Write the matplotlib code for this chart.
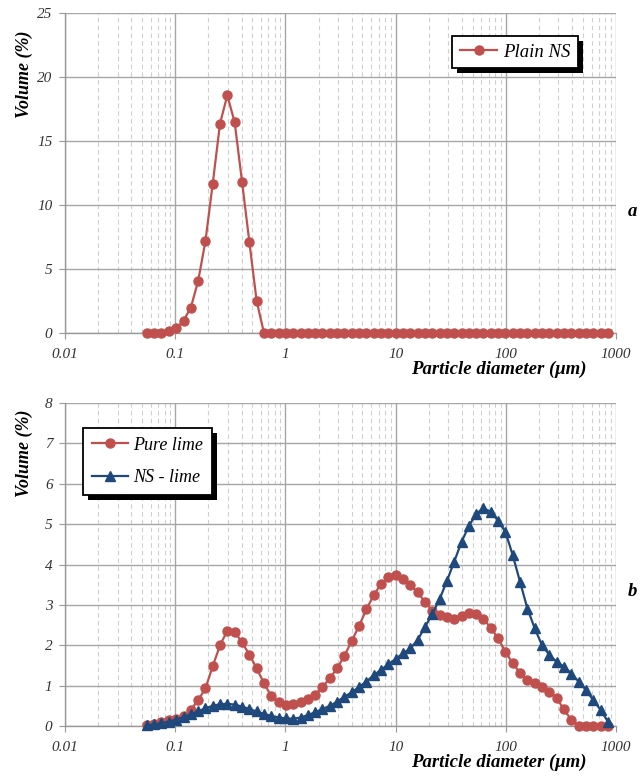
import matplotlib
matplotlib.use('Agg')
import matplotlib.pyplot as plt
from matplotlib.patches import Rectangle
from matplotlib.ticker import LogLocator, NullFormatter

plt.rcParams['font.family'] = ['Liberation Serif', 'DejaVu Serif']

# particle size classes (um)
diameter = [0.0553, 0.0645, 0.0751, 0.0876, 0.102, 0.119, 0.1385, 0.1613, 0.188, 0.219,
            0.255, 0.297, 0.3465, 0.404, 0.4707, 0.548, 0.639, 0.7446, 0.8675, 1.011,
            1.178, 1.372, 1.599, 1.863, 2.171, 2.529, 2.947, 3.434, 4.001, 4.663,
            5.433, 6.33, 7.376, 8.594, 10.01, 11.67, 13.59, 15.84, 18.46, 21.5,
            25.06, 29.2, 34.02, 39.64, 46.19, 53.83, 62.72, 73.08, 85.15, 99.2,
            115.6, 134.7, 157.0, 182.9, 213.1, 248.3, 289.3, 337.2, 392.8, 457.7,
            533.3, 621.4, 724.4, 843.7]

plain_ns = [0.00, 0.00, 0.02, 0.18, 0.37, 0.96, 1.98, 4.04, 7.16, 11.66,
            16.35, 18.57, 16.46, 11.82, 7.13, 2.52, 0.00, 0.00, 0.00, 0.00,
            0.00, 0.00, 0.00, 0.00, 0.00, 0.00, 0.00, 0.00, 0.00, 0.00,
            0.00, 0.00, 0.00, 0.00, 0.00, 0.00, 0.00, 0.00, 0.00, 0.00,
            0.00, 0.00, 0.00, 0.00, 0.00, 0.00, 0.00, 0.00, 0.00, 0.00,
            0.00, 0.00, 0.00, 0.00, 0.00, 0.00, 0.00, 0.00, 0.00, 0.00,
            0.00, 0.00, 0.00, 0.00]

pure_lime = [0.02, 0.05, 0.09, 0.14, 0.18, 0.25, 0.40, 0.64, 0.93, 1.48,
             2.00, 2.36, 2.34, 2.07, 1.77, 1.43, 1.06, 0.74, 0.59, 0.53,
             0.55, 0.59, 0.67, 0.78, 0.97, 1.18, 1.43, 1.74, 2.11, 2.48,
             2.89, 3.24, 3.52, 3.70, 3.74, 3.65, 3.49, 3.31, 3.08, 2.86,
             2.75, 2.69, 2.64, 2.72, 2.80, 2.77, 2.65, 2.43, 2.17, 1.84,
             1.55, 1.32, 1.14, 1.06, 0.97, 0.85, 0.69, 0.41, 0.15, 0.00,
             0.00, 0.00, 0.00, 0.00]

ns_lime = [0.02, 0.04, 0.07, 0.11, 0.16, 0.22, 0.29, 0.36, 0.44, 0.50,
           0.54, 0.55, 0.53, 0.48, 0.42, 0.36, 0.30, 0.25, 0.21, 0.19,
           0.18, 0.21, 0.27, 0.34, 0.42, 0.50, 0.60, 0.73, 0.83, 0.97,
           1.10, 1.26, 1.39, 1.53, 1.66, 1.80, 1.92, 2.13, 2.45, 2.77,
           3.14, 3.59, 4.07, 4.56, 4.95, 5.26, 5.39, 5.31, 5.08, 4.81,
           4.23, 3.57, 2.91, 2.42, 2.00, 1.76, 1.59, 1.47, 1.30, 1.10,
           0.89, 0.64, 0.40, 0.11]

x_ticks = [0.01, 0.1, 1, 10, 100, 1000]
x_tick_labels = ['0.01', '0.1', '1', '10', '100', '1000']

RED = '#C0504D'
BLUE = '#1F497D'
TXT = '#333333'

fig = plt.figure(figsize=(6.43, 7.82), dpi=100)
fig.patch.set_facecolor('white')
ax_a = fig.add_axes([65 / 643, 1 - 333 / 782, 551 / 643, 320 / 782])
ax_b = fig.add_axes([65 / 643, 1 - 726 / 782, 551 / 643, 323 / 782])


def style_axis(ax, ymax, ystep, ylab_y):
    ax.set_xscale('log')
    ax.set_xlim(0.01, 1000)
    ax.set_ylim(0, ymax)
    ax.set_xticks(x_ticks)
    ax.set_xticklabels(x_tick_labels)
    ax.xaxis.set_minor_locator(LogLocator(base=10, subs=range(2, 10)))
    ax.xaxis.set_minor_formatter(NullFormatter())
    ax.set_yticks(range(0, ymax + 1, ystep))
    ax.grid(which='major', color='#a6a6a6', linewidth=1.0, linestyle='-')
    ax.grid(which='minor', axis='x', color='#cfcfcf', linewidth=0.8, linestyle=(0, (4, 3)))
    ax.set_axisbelow(True)
    for side in ['top', 'right']:
        ax.spines[side].set_visible(False)
    for side in ['left', 'bottom']:
        ax.spines[side].set_color('#999999')
        ax.spines[side].set_linewidth(1.0)
    ax.tick_params(which='major', length=4, color='#999999', labelcolor=TXT,
                   labelsize=11, pad=5)
    ax.tick_params(axis='x', which='major', pad=7)
    ax.tick_params(which='minor', length=0)
    for lab in ax.get_xticklabels() + ax.get_yticklabels():
        lab.set_fontstyle('italic')
    ax.set_xlabel('Particle diameter (μm)', fontsize=13.5, fontweight='bold',
                  fontstyle='italic', color='black')
    ax.xaxis.set_label_coords(0.788, -0.085)
    ax.set_ylabel('Volume (%)', fontsize=13, fontweight='bold',
                  fontstyle='italic', color='black')
    ax.yaxis.set_label_coords(-0.058, ylab_y)


# panel a
ax_a.plot(diameter, plain_ns, color=RED, linewidth=1.6, marker='o',
          markersize=6.5, label='Plain NS', clip_on=False, zorder=3)
style_axis(ax_a, 25, 5, 0.81)
leg_a = ax_a.legend(loc='upper left', bbox_to_anchor=(0.703, 0.928),
                    borderaxespad=0, fancybox=False, edgecolor='black',
                    framealpha=1, handlelength=2.0, handletextpad=0.3,
                    borderpad=0.4, prop={'size': 13.5, 'style': 'italic'})
leg_a.get_frame().set_linewidth(1.3)

# panel b
ax_b.plot(diameter, pure_lime, color=RED, linewidth=1.6, marker='o',
          markersize=6.5, label='Pure lime', clip_on=False, zorder=3)
ax_b.plot(diameter, ns_lime, color=BLUE, linewidth=1.6, marker='^',
          markersize=6.5, label='NS - lime', clip_on=False, zorder=3)
style_axis(ax_b, 8, 1, 0.845)
leg_b = ax_b.legend(loc='upper left', bbox_to_anchor=(0.032, 0.9235),
                    borderaxespad=0, fancybox=False, edgecolor='black',
                    framealpha=1, handlelength=2.0, handletextpad=0.3,
                    borderpad=0.5, labelspacing=0.85,
                    prop={'size': 13, 'style': 'italic'})
leg_b.get_frame().set_linewidth(1.3)

fig.text(632 / 643, 1 - 212 / 782, 'a', fontsize=13.5, fontweight='bold',
         fontstyle='italic', ha='center', va='center')
fig.text(632 / 643, 1 - 591 / 782, 'b', fontsize=13.5, fontweight='bold',
         fontstyle='italic', ha='center', va='center')

# solid black drop shadow behind the legend boxes, Excel style
fig.canvas.draw()
renderer = fig.canvas.get_renderer()
for ax, leg in [(ax_a, leg_a), (ax_b, leg_b)]:
    bb = leg.get_frame().get_window_extent(renderer)
    inv = ax.transAxes.inverted()
    x0, y0 = inv.transform((bb.x0 + 5, bb.y0 - 5))
    x1, y1 = inv.transform((bb.x1 + 5, bb.y1 - 5))
    ax.add_patch(Rectangle((x0, y0), x1 - x0, y1 - y0, transform=ax.transAxes,
                           facecolor='black', edgecolor='none', zorder=4.9,
                           clip_on=False))

fig.savefig('out.png', dpi=100)
